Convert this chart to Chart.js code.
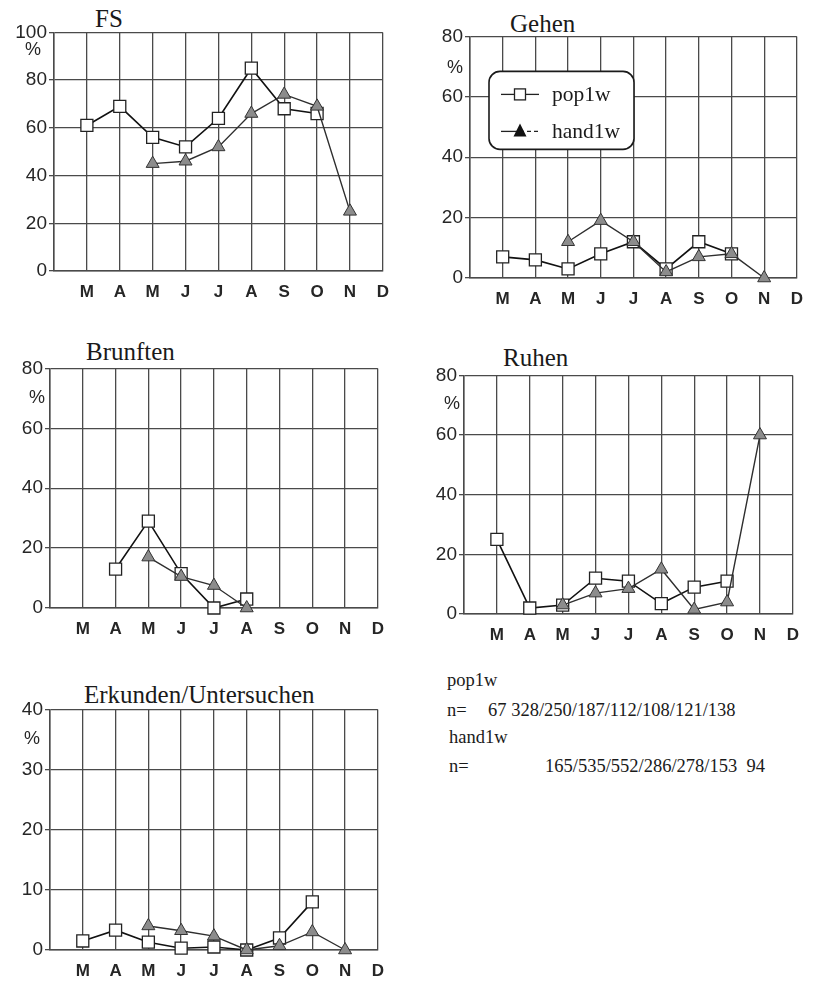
<!DOCTYPE html>
<html>
<head>
<meta charset="utf-8">
<script src="https://cdn.jsdelivr.net/npm/chart.js@4"></script>
<style>
  html, body { margin: 0; padding: 0; background: #fff; }
  body { width: 817px; height: 983px; position: relative; overflow: hidden; }
  .panel { position: absolute; }
  .title { position: absolute; font-family: 'Liberation Serif', 'Times New Roman', serif; font-size: 25px; line-height: 25px; color: #1a1a1a; white-space: nowrap; }
  .note { position: absolute; font-family: 'Liberation Serif', 'Times New Roman', serif; font-size: 18.5px; line-height: 18.5px; color: #1a1a1a; white-space: pre; }
</style>
</head>
<body>

<div class="title" style="left:95px;top:6px;">FS</div>
<div class="title" style="left:510px;top:11px;">Gehen</div>
<div class="title" style="left:86px;top:339px;">Brunften</div>
<div class="title" style="left:503px;top:345px;">Ruhen</div>
<div class="title" style="left:84px;top:682px;">Erkunden/Untersuchen</div>

<div class="note" style="left:447px;top:671px;">pop1w</div>
<div class="note" style="left:447px;top:701px;">n=</div>
<div class="note" style="left:488px;top:701px;">67 328/250/187/112/108/121/138</div>
<div class="note" style="left:449px;top:728px;">hand1w</div>
<div class="note" style="left:449px;top:757px;">n=</div>
<div class="note" style="left:545px;top:757px;">165/535/552/286/278/153  94</div>

<script>
// Months March..December; each series has one value per month (null = no observation)
const months = ['M', 'A', 'M', 'J', 'J', 'A', 'S', 'O', 'N', 'D'];

const fsPop  = [61, 69, 56, 52, 64, 85, 68, 66, null, null];
const fsHand = [null, null, 45, 46, 52, 66, 74, 69, 25, null];

const gehenPop  = [7, 6, 3, 8, 12, 3, 12, 8, null, null];
const gehenHand = [null, null, 12, 19, 12, 2, 7, 8, 0, null];

const brunftenPop  = [null, 13, 29, 11.5, 0, 3, null, null, null, null];
const brunftenHand = [null, null, 17, 10.5, 7.5, 0, null, null, null, null];

const ruhenPop  = [25, 2, 3, 12, 11, 3.5, 9, 11, null, null];
const ruhenHand = [null, null, 3, 7, 8.5, 15, 1.5, 4, 60, null];

const erkundenPop  = [1.5, 3.3, 1.3, 0.3, 0.5, 0, 2, 8, null, null];
const erkundenHand = [null, null, 4, 3.2, 2.3, 0, 0.7, 3, 0, null];

const seriesNames = ['pop1w', 'hand1w'];

const SANS = "'Liberation Sans', Arial, sans-serif";
const SERIF = "'Liberation Serif', 'Times New Roman', serif";
const GRID = '#4a4a4a';
const INK = '#262626';

// "%" unit label placed just under the top tick of the value axis
const pctLabel = {
  id: 'pctLabel',
  afterDraw(chart, args, opts) {
    if (!opts || opts.dx === undefined) return;
    const a = chart.chartArea, ctx = chart.ctx;
    ctx.save();
    ctx.font = '18px ' + SANS;
    ctx.fillStyle = INK;
    ctx.textAlign = 'center';
    ctx.textBaseline = 'middle';
    ctx.fillText('%', a.left + opts.dx, a.top + opts.dy);
    ctx.restore();
  }
};

// Rounded legend box drawn inside the plot area
const boxLegend = {
  id: 'boxLegend',
  afterDatasetsDraw(chart, args, opts) {
    if (!opts || !opts.show) return;
    const a = chart.chartArea, ctx = chart.ctx;
    const x = a.left + opts.x, y = a.top + opts.y;
    ctx.save();
    ctx.beginPath();
    ctx.roundRect(x, y, opts.w, opts.h, 11);
    ctx.fillStyle = '#fff';
    ctx.fill();
    ctx.lineWidth = 1.6;
    ctx.strokeStyle = '#1a1a1a';
    ctx.stroke();

    chart.data.datasets.forEach((ds, i) => {
      const cy = y + opts.rows[i];
      const mx = x + 31;
      ctx.lineWidth = 1.3;
      ctx.strokeStyle = '#222';
      ctx.beginPath();
      ctx.moveTo(x + 12, cy);
      ctx.lineTo(mx, cy);
      ctx.stroke();
      ctx.setLineDash(i === 1 ? [4, 3] : []);
      ctx.beginPath();
      ctx.moveTo(mx, cy);
      ctx.lineTo(x + 50, cy);
      ctx.stroke();
      ctx.setLineDash([]);
      if (i === 0) {
        ctx.fillStyle = '#fff';
        ctx.fillRect(mx - 5.5, cy - 5.5, 11, 11);
        ctx.strokeRect(mx - 5.5, cy - 5.5, 11, 11);
      } else {
        ctx.beginPath();
        ctx.moveTo(mx, cy - 8);
        ctx.lineTo(mx + 6.5, cy + 5);
        ctx.lineTo(mx - 6.5, cy + 5);
        ctx.closePath();
        ctx.fillStyle = '#111';
        ctx.fill();
      }
      ctx.font = '21.5px ' + SERIF;
      ctx.fillStyle = '#1a1a1a';
      ctx.textAlign = 'left';
      ctx.textBaseline = 'middle';
      ctx.fillText(ds.label, x + 63, cy + 1);
    });
    ctx.restore();
  }
};

const Y_W = 50, PAD_TOP = 12, PAD_RIGHT = 8, X_H = 32;

function makePanel(cfg) {
  const div = document.createElement('div');
  div.className = 'panel';
  const w = Y_W + (cfg.area.r - cfg.area.l) + PAD_RIGHT;
  const h = PAD_TOP + (cfg.area.b - cfg.area.t) + X_H;
  div.style.left = (cfg.area.l - Y_W) + 'px';
  div.style.top = (cfg.area.t - PAD_TOP) + 'px';
  div.style.width = w + 'px';
  div.style.height = h + 'px';
  const canvas = document.createElement('canvas');
  div.appendChild(canvas);
  document.body.appendChild(div);

  const labels = [''].concat(months);
  const lead = v => [null].concat(v);

  new Chart(canvas, {
    type: 'line',
    data: {
      labels: labels,
      datasets: [
        {
          label: seriesNames[0],
          data: lead(cfg.pop),
          borderColor: '#111',
          borderWidth: 1.6,
          pointStyle: 'rect',
          pointRadius: 8.5,
          pointBackgroundColor: '#fff',
          pointBorderColor: '#222',
          pointBorderWidth: 1.3,
          spanGaps: false,
          clip: false,
          order: 1
        },
        {
          label: seriesNames[1],
          data: lead(cfg.hand),
          borderColor: '#2e2e2e',
          borderWidth: 1.4,
          pointStyle: 'triangle',
          pointRadius: 7.5,
          pointBackgroundColor: '#8c8c8c',
          pointBorderColor: '#333',
          pointBorderWidth: 1,
          spanGaps: false,
          clip: false,
          order: 0
        }
      ]
    },
    options: {
      responsive: true,
      maintainAspectRatio: false,
      animation: false,
      events: [],
      layout: { padding: { top: PAD_TOP, right: PAD_RIGHT, left: 0, bottom: 0 } },
      plugins: {
        legend: { display: false },
        title: { display: false },
        tooltip: { enabled: false },
        pctLabel: cfg.pct,
        boxLegend: cfg.legend || { show: false }
      },
      scales: {
        x: {
          type: 'category',
          offset: false,
          afterFit: s => { s.height = X_H; },
          grid: { color: GRID, lineWidth: 1.3, drawTicks: false },
          border: { color: GRID, width: 1.5 },
          ticks: {
            autoSkip: false, maxRotation: 0, padding: 11,
            color: INK, font: { family: SANS, size: 17, weight: 'bold' }
          }
        },
        y: {
          min: 0, max: cfg.max,
          afterFit: s => { s.width = Y_W; },
          grid: { color: GRID, lineWidth: 1.3, drawTicks: true, tickLength: 5 },
          border: { color: GRID, width: 1.5 },
          ticks: {
            stepSize: cfg.step, padding: 2,
            color: INK, font: { family: SANS, size: 19 }
          }
        }
      }
    },
    plugins: [pctLabel, boxLegend]
  });
}

makePanel({ area: { l: 54, t: 31, r: 392, b: 271 }, max: 100, step: 20,
  pop: fsPop, hand: fsHand, pct: { dx: -21, dy: 18 } });
makePanel({ area: { l: 470, t: 35, r: 806, b: 278 }, max: 80, step: 20,
  pop: gehenPop, hand: gehenHand, pct: { dx: -15, dy: 32 },
  legend: { show: true, x: 19, y: 35, w: 145, h: 78, rows: [23, 60] } });
makePanel({ area: { l: 50, t: 367, r: 387, b: 608 }, max: 80, step: 20,
  pop: brunftenPop, hand: brunftenHand, pct: { dx: -13, dy: 30 } });
makePanel({ area: { l: 464, t: 374, r: 802, b: 614 }, max: 80, step: 20,
  pop: ruhenPop, hand: ruhenHand, pct: { dx: -12, dy: 29 } });
makePanel({ area: { l: 50, t: 708, r: 387, b: 950 }, max: 40, step: 10,
  pop: erkundenPop, hand: erkundenHand, pct: { dx: -18, dy: 30 } });
</script>
</body>
</html>
